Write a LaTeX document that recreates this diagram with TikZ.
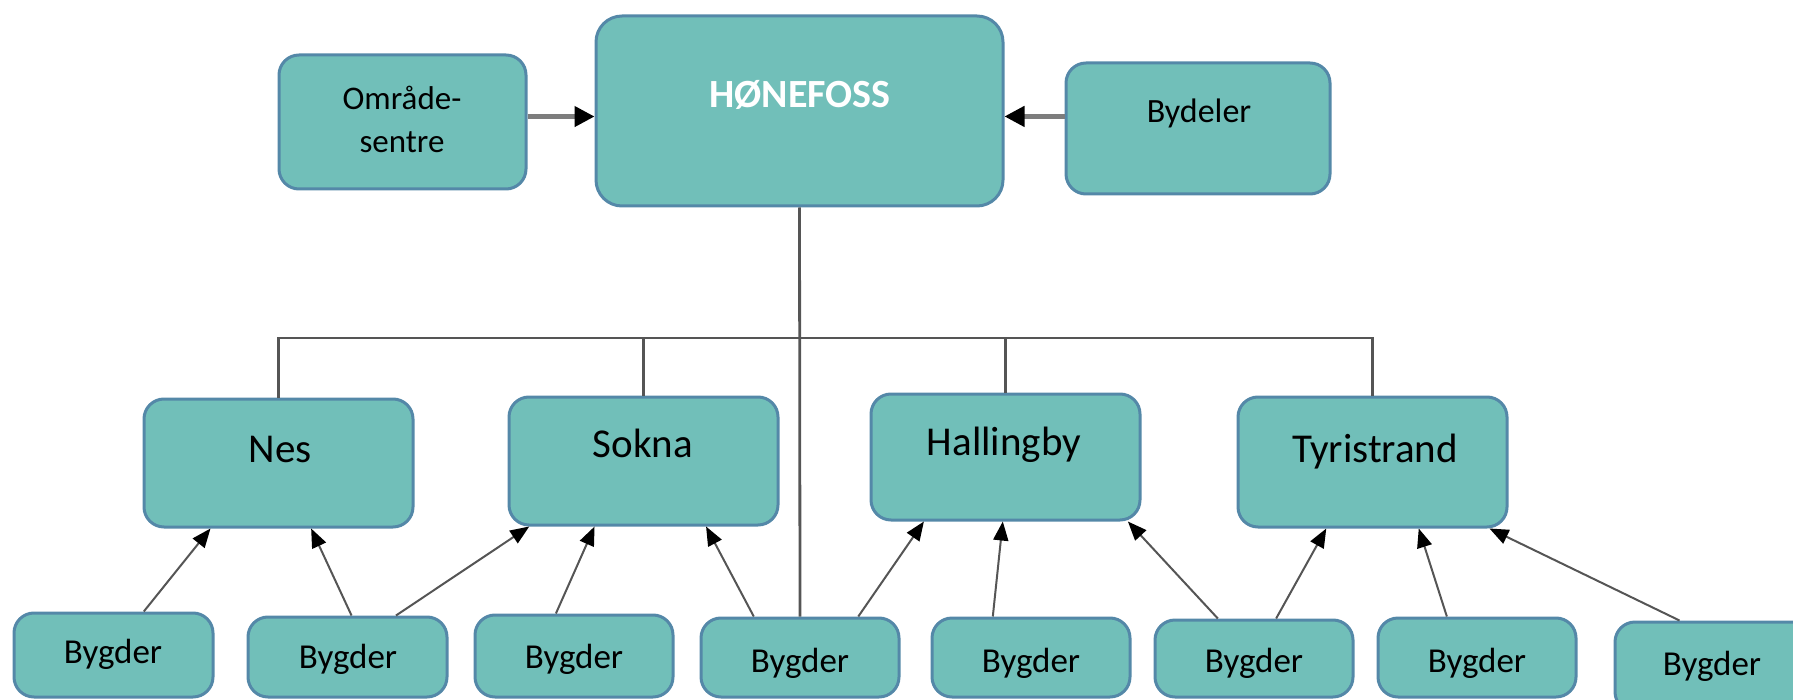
\documentclass[tikz,border=0pt]{standalone}
\usepackage{fontspec}
\setmainfont{Carlito}
\usetikzlibrary{fit,calc,arrows.meta}
\definecolor{boxfill}{RGB}{113,191,185}
\definecolor{boxline}{RGB}{84,136,168}
\definecolor{conn}{RGB}{85,85,85}
\definecolor{topconn}{RGB}{125,125,125}
\begin{document}
\begin{tikzpicture}[x=0.5pt,y=-0.5pt,
  box/.style={draw=boxline, fill=boxfill, line width=1.5pt, rounded corners=10pt, inner sep=0pt},
  bigbox/.style={box, rounded corners=13pt},
  lbl/.style={anchor=base, inner sep=0pt, text=black},
  midfont/.style={font=\fontsize{20.5}{24}\selectfont},
  smallfont/.style={font=\fontsize{17.5}{21}\selectfont},
  tree/.style={draw=conn, line width=1.4pt},
  toparr/.style={draw=topconn, line width=2.2pt, -{Triangle[length=10pt,width=10pt,color=black]}},
  botarr/.style={draw=conn, line width=1pt, -{Triangle[length=9.5pt,width=7.5pt,color=black]}}
]
\useasboundingbox (0,0) rectangle (1793,700);
\clip (0,0) rectangle (1793,700);

% top row
\node[box, fit={(279,55)(526,189)}] (omr) {};
\node[bigbox, fit={(596,16)(1003,206)}] (hon) {};
\node[box, fit={(1066,63)(1330,194)}] (byd) {};

% middle row
\node[box, fit={(144,399)(413,527)}] (nes) {};
\node[box, fit={(509,397)(778,525)}] (sok) {};
\node[box, fit={(871,394)(1140,520)}] (hal) {};
\node[box, fit={(1238,397)(1507,527)}] (tyr) {};

% bottom row
\node[box, fit={(14,613)(213,697)}] (b1) {};
\node[box, fit={(248,617)(447,697)}] (b2) {};
\node[box, fit={(475,615)(673,697)}] (b3) {};
\node[box, fit={(701,618)(899,697)}] (b4) {};
\node[box, fit={(932,618)(1130,697)}] (b5) {};
\node[box, fit={(1155,620)(1353,697)}] (b6) {};
\node[box, fit={(1378,618)(1576,697)}] (b7) {};
\node[box, fit={(1615,622)(1812,712)}] (b8) {};

% texts
\node[lbl, text=white, font=\fontsize{20}{24}\selectfont\bfseries] (honT) at (800,108) {HØNEFOSS};
\node[inner sep=0pt, align=center, font=\fontsize{16.5}{21.5}\selectfont] (omrT) at (402,119) {Område-\\sentre};
\node[lbl, font=\fontsize{17}{20}\selectfont] (bydT) at (1199,123) {Bydeler};
\node[lbl, midfont] (nesT) at (280,462) {Nes};
\node[lbl, midfont] (sokT) at (643,457) {Sokna};
\node[lbl, midfont] (halT) at (1004,455) {Hallingby};
\node[lbl, midfont] (tyrT) at (1375,462) {Tyristrand};
\node[lbl, smallfont] (b1T) at (113,663) {Bygder};
\node[lbl, smallfont] (b2T) at (348,668) {Bygder};
\node[lbl, smallfont] (b3T) at (574,668) {Bygder};
\node[lbl, smallfont] (b4T) at (800,672) {Bygder};
\node[lbl, smallfont] (b5T) at (1031,672) {Bygder};
\node[lbl, smallfont] (b6T) at (1254,672) {Bygder};
\node[lbl, smallfont] (b7T) at (1477,672) {Bygder};
\node[lbl, smallfont] (b8T) at (1712,675) {Bygder};

% top arrows
\draw[toparr] ($(omr.north east)!0.46!(omr.south east)$) coordinate (oa) -- (oa -| hon.west);
\draw[toparr] ($(byd.north west)!0.41!(byd.south west)$) coordinate (ba) -- (ba -| hon.east);

% tree
\coordinate (bus) at (800,338);
\draw[tree] (hon.south) -- (b4.north);
\draw[tree] (nes.north) |- (bus) -| (tyr.north);
\draw[tree] (sok.north) -- (sok.north |- bus);
\draw[tree] (hal.north) -- (hal.north |- bus);

% bottom arrows
\draw[botarr] ($(b1.north west)!0.65!(b1.north east)$) -- ($(nes.south west)!0.25!(nes.south east)$);
\draw[botarr] ($(b2.north west)!0.52!(b2.north east)$) -- ($(nes.south west)!0.62!(nes.south east)$);
\draw[botarr] ($(b2.north west)!0.74!(b2.north east)$) -- ($(sok.south west)!0.08!(sok.south east)$);
\draw[botarr] ($(b3.north west)!0.41!(b3.north east)$) -- ($(sok.south west)!0.32!(sok.south east)$);
\draw[botarr] ($(b4.north west)!0.27!(b4.north east)$) -- ($(sok.south west)!0.73!(sok.south east)$);
\draw[botarr] ($(b4.north west)!0.79!(b4.north east)$) -- ($(hal.south west)!0.2!(hal.south east)$);
\draw[botarr] ($(b5.north west)!0.31!(b5.north east)$) -- ($(hal.south west)!0.49!(hal.south east)$);
\draw[botarr] ($(b6.north west)!0.32!(b6.north east)$) -- ($(hal.south west)!0.95!(hal.south east)$);
\draw[botarr] ($(b6.north west)!0.61!(b6.north east)$) -- ($(tyr.south west)!0.33!(tyr.south east)$);
\draw[botarr] ($(b7.north west)!0.35!(b7.north east)$) -- ($(tyr.south west)!0.67!(tyr.south east)$);
\draw[botarr] ($(b8.north west)!0.33!(b8.north east)$) -- ($(tyr.south west)!0.93!(tyr.south east)$);
\end{tikzpicture}
\end{document}
